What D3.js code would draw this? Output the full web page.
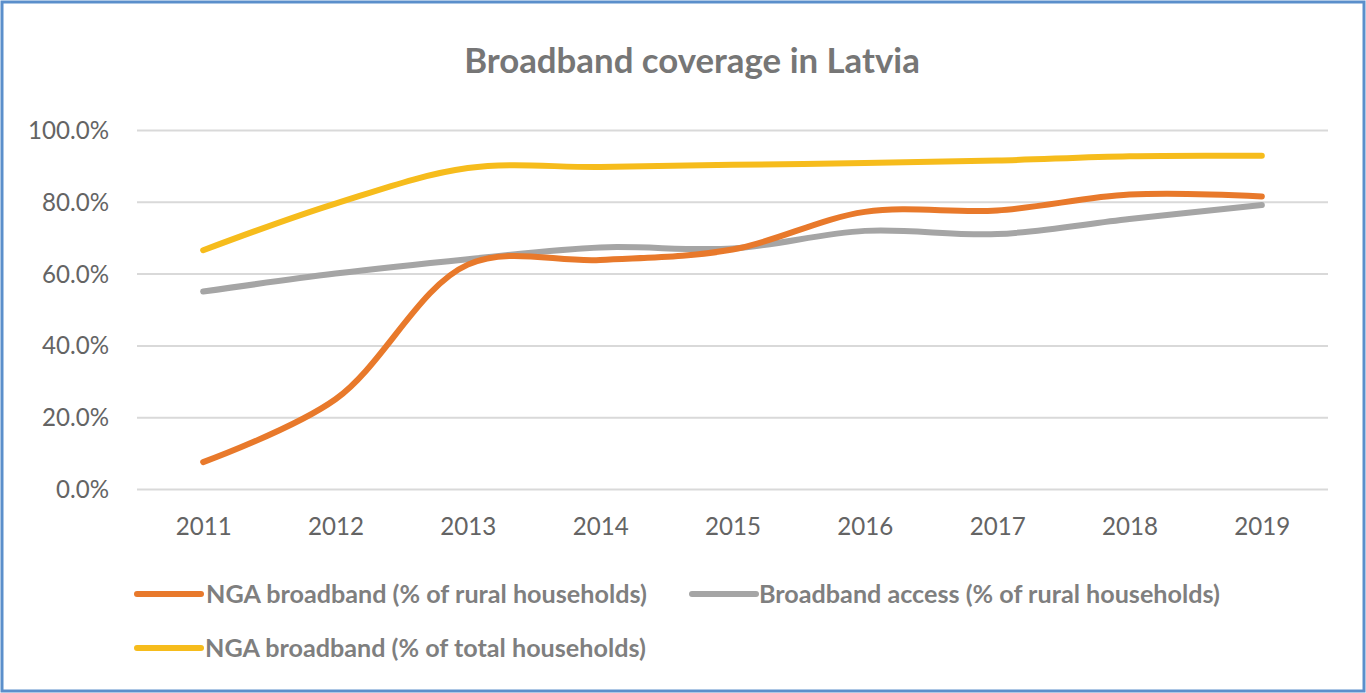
<!DOCTYPE html>
<html>
<head>
<meta charset="utf-8">
<script src="https://cdn.jsdelivr.net/npm/d3@7"></script>
<style>
  html, body { margin: 0; padding: 0; background: #ffffff; }
  svg { display: block; }
  text { font-family: Lato, "Open Sans", sans-serif; }
</style>
</head>
<body>
<svg id="chart" width="1366" height="693"></svg>
<script>
// ---- data ----
const years = ["2011", "2012", "2013", "2014", "2015", "2016", "2017", "2018", "2019"];
const ngaRural = [7.5, 25.0, 62.5, 63.8, 66.7, 77.2, 77.6, 82.0, 81.5];
const broadbandRural = [55.0, 60.0, 64.0, 67.3, 67.0, 71.9, 71.0, 75.2, 79.1];
const ngaTotal = [66.5, 79.5, 89.4, 89.7, 90.3, 90.8, 91.5, 92.7, 92.8];
const yTicks = [0, 20, 40, 60, 80, 100];
const seriesNames = [
  "NGA broadband (% of rural households)",
  "Broadband access (% of rural households)",
  "NGA broadband (% of total households)"
];
const seriesColors = ["#E8792B", "#A5A5A5", "#F6BC1C"];

const series = [
  { name: seriesNames[0], color: seriesColors[0], values: ngaRural },
  { name: seriesNames[1], color: seriesColors[1], values: broadbandRural },
  { name: seriesNames[2], color: seriesColors[2], values: ngaTotal }
];

const svg = d3.select("#chart");
const W = 1366, H = 693;
const plot = { left: 137, right: 1328, top: 130, bottom: 489 };

function fitWidth(sel, target) {
  const len = sel.node().getComputedTextLength();
  const fs = parseFloat(sel.attr("font-size"));
  const nfs = fs * target / len;
  sel.attr("font-size", nfs);
  return nfs;
}

// frame
svg.append("rect").attr("x", 0).attr("y", 0).attr("width", W).attr("height", H).attr("fill", "#ffffff");
svg.append("rect").attr("x", 2).attr("y", 2).attr("width", W - 4).attr("height", H - 4)
  .attr("fill", "none").attr("stroke", "#5B8FCB").attr("stroke-width", 3);

// scales
const x = d3.scalePoint().domain(years).range([plot.left, plot.right]).padding(0.5);
const y = d3.scaleLinear().domain([0, 100]).range([plot.bottom, plot.top]);

// gridlines
const grid = svg.append("g").attr("transform", `translate(${plot.left},0)`)
  .call(d3.axisLeft(y).tickValues(yTicks).tickSize(-(plot.right - plot.left)).tickFormat(""));
grid.select(".domain").remove();
grid.selectAll(".tick line").attr("stroke", "#D9D9D9").attr("stroke-width", 2);

// y axis labels
const yAxis = svg.append("g").attr("transform", `translate(109,0)`)
  .call(d3.axisLeft(y).tickValues(yTicks).tickSize(0).tickPadding(0).tickFormat(d => d.toFixed(1) + "%"));
yAxis.select(".domain").remove();
yAxis.selectAll(".tick text")
  .attr("fill", "#646464").attr("font-size", 22).attr("font-family", "Lato, sans-serif")
  .attr("dy", "0.35em");
{
  const topLabel = yAxis.selectAll(".tick text").filter(d => d === 100);
  const fs = fitWidth(topLabel, 81);
  yAxis.selectAll(".tick text").attr("font-size", fs);
}

// x axis labels
const xAxis = svg.append("g").attr("transform", `translate(0,${527})`)
  .call(d3.axisBottom(x).tickSize(0).tickPadding(0));
xAxis.select(".domain").remove();
xAxis.selectAll(".tick text")
  .attr("fill", "#646464").attr("font-size", 22).attr("font-family", "Lato, sans-serif")
  .attr("dy", "0.35em");
{
  const lbl = xAxis.selectAll(".tick text").filter(d => d === "2018");
  const fs = fitWidth(lbl, 56);
  xAxis.selectAll(".tick text").attr("font-size", fs);
}

// lines
const line = d3.line()
  .x((d, i) => x(years[i]))
  .y(d => y(d))
  .curve(d3.curveCatmullRom.alpha(0.5));

svg.append("g").selectAll("path")
  .data(series.slice().reverse())
  .join("path")
  .attr("d", d => line(d.values))
  .attr("fill", "none")
  .attr("stroke", d => d.color)
  .attr("stroke-width", 6)
  .attr("stroke-linecap", "round")
  .attr("stroke-linejoin", "round");

// title
const title = svg.append("text")
  .attr("x", 692).attr("y", 73)
  .attr("text-anchor", "middle")
  .attr("font-weight", "bold")
  .attr("font-size", 30)
  .attr("fill", "#767676")
  .text("Broadband coverage in Latvia");
fitWidth(title, 456);

// legend
const legendPos = [
  { lx: 137, ly: 594, tx: 206 },
  { lx: 692, ly: 594, tx: 759 },
  { lx: 137, ly: 648, tx: 205 }
];
const legend = svg.append("g");
series.forEach((s, i) => {
  const p = legendPos[i];
  legend.append("line")
    .attr("x1", p.lx).attr("x2", p.lx + 64)
    .attr("y1", p.ly).attr("y2", p.ly)
    .attr("stroke", s.color).attr("stroke-width", 6).attr("stroke-linecap", "round");
  legend.append("text")
    .attr("class", "legtext")
    .attr("x", p.tx).attr("y", p.ly)
    .attr("dy", "0.35em")
    .attr("font-weight", "bold")
    .attr("font-size", 20)
    .attr("fill", "#7F7F7F")
    .text(s.name);
});
{
  const first = legend.selectAll(".legtext").filter((d, i) => i === 0);
  const fs = fitWidth(first, 441);
  legend.selectAll(".legtext").attr("font-size", fs);
}
</script>
</body>
</html>
